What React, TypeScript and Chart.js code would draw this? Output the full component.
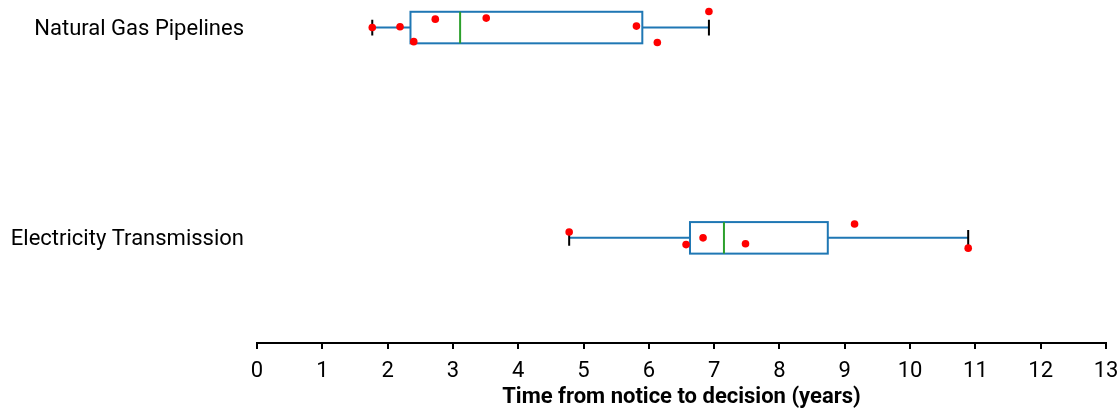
import React, { useEffect, useRef } from "react";
import { Chart, registerables } from "chart.js";

Chart.register(...registerables);

const categories = ["Natural Gas Pipelines", "Electricity Transmission"];

// Box statistics (years): low whisker, Q1, median, Q3, high whisker
const gasStats = [1.765, 2.35, 3.11, 5.9, 6.92];
const elecStats = [4.78, 6.63, 7.15, 8.74, 10.89];

// Individual observations (years) and their vertical jitter
const gasValues = [1.765, 2.19, 2.4, 2.73, 3.51, 5.81, 6.13, 6.92];
const gasJitter = [0.0, -0.004, 0.067, -0.04, -0.045, -0.007, 0.071, -0.076];
const elecValues = [4.78, 6.57, 6.83, 7.48, 9.15, 10.89];
const elecJitter = [-0.028, 0.032, 0.0, 0.028, -0.066, 0.049];

const xTicks = [0, 1, 2, 3, 4, 5, 6, 7, 8, 9, 10, 11, 12, 13];
const xTitle = "Time from notice to decision (years)";

const FONT = "Roboto";

export default function App() {
  const ref = useRef<HTMLCanvasElement | null>(null);

  useEffect(() => {
    if (!ref.current) return;
    const stats = [gasStats, elecStats];

    const boxPlugin = {
      id: "boxes",
      beforeDatasetsDraw(chart: any) {
        const { ctx, scales } = chart;
        const xs = scales.x;
        const ys = scales.y;
        const half = 0.075;
        stats.forEach((s, i) => {
          const pos = i + 1;
          const [lo, q1, med, q3, hi] = s;
          const yc = ys.getPixelForValue(pos);
          const yt = ys.getPixelForValue(pos - half);
          const yb = ys.getPixelForValue(pos + half);
          const capT = ys.getPixelForValue(pos - half / 2);
          const capB = ys.getPixelForValue(pos + half / 2);
          const px = (v: number) => xs.getPixelForValue(v);
          ctx.save();
          ctx.lineWidth = 2;
          ctx.strokeStyle = "#1f77b4";
          ctx.beginPath();
          ctx.moveTo(px(lo), yc);
          ctx.lineTo(px(q1), yc);
          ctx.moveTo(px(q3), yc);
          ctx.lineTo(px(hi), yc);
          ctx.stroke();
          ctx.strokeRect(px(q1), yt, px(q3) - px(q1), yb - yt);
          ctx.strokeStyle = "#2ca02c";
          ctx.beginPath();
          ctx.moveTo(px(med), yt);
          ctx.lineTo(px(med), yb);
          ctx.stroke();
          ctx.strokeStyle = "#000000";
          ctx.beginPath();
          ctx.moveTo(px(lo), capT);
          ctx.lineTo(px(lo), capB);
          ctx.moveTo(px(hi), capT);
          ctx.lineTo(px(hi), capB);
          ctx.stroke();
          ctx.restore();
        });
      },
    };

    const chart = new Chart(ref.current, {
      type: "scatter",
      data: {
        datasets: [
          {
            label: categories[0],
            data: gasValues.map((v, i) => ({ x: v, y: 1 + gasJitter[i] })),
            backgroundColor: "#ff0000",
            borderColor: "#ff0000",
            pointRadius: 3.8,
            pointBorderWidth: 0,
          },
          {
            label: categories[1],
            data: elecValues.map((v, i) => ({ x: v, y: 2 + elecJitter[i] })),
            backgroundColor: "#ff0000",
            borderColor: "#ff0000",
            pointRadius: 3.8,
            pointBorderWidth: 0,
          },
        ],
      },
      options: {
        animation: false,
        responsive: false,
        maintainAspectRatio: false,
        layout: { padding: { top: 0, left: 0, right: 13, bottom: 0 } },
        plugins: {
          legend: { display: false },
          tooltip: { enabled: false },
        },
        datasets: { scatter: { clip: false } } as any,
        scales: {
          x: {
            type: "linear",
            position: "bottom",
            min: 0,
            max: 13,
            afterBuildTicks: (scale: any) => {
              scale.ticks = xTicks.map((v) => ({ value: v }));
            },
            afterFit: (scale: any) => {
              scale.height = 68;
              scale.paddingLeft = 0;
              scale.paddingRight = 0;
            },
            border: { display: true, color: "#000000", width: 2 },
            grid: {
              drawOnChartArea: false,
              drawTicks: true,
              tickLength: 6,
              color: "#000000",
              lineWidth: 2,
            },
            ticks: {
              color: "#000000",
              padding: 9,
              maxRotation: 0,
              font: { family: FONT, size: 22 },
            },
            title: {
              display: true,
              text: xTitle,
              color: "#000000",
              padding: { top: 0, bottom: 0 },
              font: { family: FONT, size: 22, weight: "bold" },
            },
          },
          y: {
            type: "linear",
            reverse: true,
            min: 0.888,
            max: 2.5,
            afterBuildTicks: (scale: any) => {
              scale.ticks = [{ value: 1 }, { value: 2 }];
            },
            afterFit: (scale: any) => {
              scale.width = 257;
              scale.paddingTop = 0;
              scale.paddingBottom = 0;
            },
            border: { display: false },
            grid: { display: false, drawTicks: false, tickLength: 0 },
            ticks: {
              color: "#000000",
              padding: 13,
              labelOffset: 2,
              font: { family: FONT, size: 22 },
              callback: (v: any) => categories[Math.round(Number(v)) - 1] ?? "",
            },
          },
        },
      },
      plugins: [boxPlugin],
    } as any);

    return () => chart.destroy();
  }, []);

  return (
    <div style={{ position: "fixed", left: 0, top: 0, width: 1119, height: 411 }}>
      <canvas ref={ref} width={1119} height={411} style={{ width: 1119, height: 411 }} />
    </div>
  );
}
